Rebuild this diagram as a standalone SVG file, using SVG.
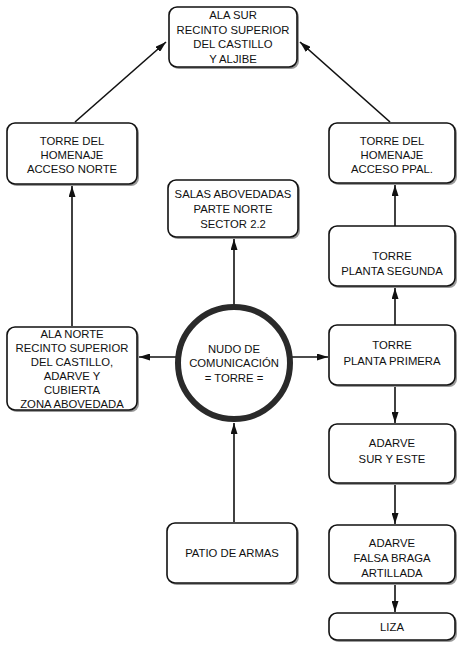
<svg xmlns="http://www.w3.org/2000/svg" width="459" height="652" viewBox="0 0 459 652">
<style>
.box{fill:#fff;stroke:#111;stroke-width:1.6}
.sh{fill:#9a9a9a}
text{font-family:"Liberation Sans",Arial,sans-serif;font-size:11.3px;fill:#111;text-anchor:middle}
.c{stroke:#111;stroke-width:1.6;fill:none;marker-end:url(#ah)}
</style>
<defs>
<marker id="ah" viewBox="0 0 11 7" refX="11" refY="3.5" markerWidth="11" markerHeight="7" markerUnits="userSpaceOnUse" orient="auto">
<path d="M0,0 L11,3.5 L0,7 Z" fill="#111"/>
</marker>
</defs>
<rect width="459" height="652" fill="#fff"/>
<g id="connectors">
<line class="c" x1="75" y1="122" x2="166" y2="42"/>
<line class="c" x1="390" y1="122" x2="300" y2="42"/>
<line class="c" x1="72" y1="326" x2="72" y2="186"/>
<line class="c" x1="234" y1="304" x2="234" y2="239"/>
<line class="c" x1="176" y1="357" x2="139" y2="357"/>
<line class="c" x1="292" y1="357" x2="328" y2="357"/>
<line class="c" x1="234" y1="522" x2="234" y2="423"/>
<line class="c" x1="395" y1="325" x2="395" y2="288"/>
<line class="c" x1="395" y1="226" x2="395" y2="185"/>
<line class="c" x1="395" y1="386" x2="395" y2="423"/>
<line class="c" x1="395" y1="484" x2="395" y2="524"/>
<line class="c" x1="395" y1="584" x2="395" y2="612"/>
</g>
<g id="ala-sur">
<rect class="sh" x="171" y="9" width="128" height="60" rx="8"/>
<rect class="box" x="169" y="7" width="128" height="60" rx="8"/>
<text x="233" y="19">ALA SUR</text>
<text x="233" y="33.5">RECINTO SUPERIOR</text>
<text x="233" y="48">DEL CASTILLO</text>
<text x="233" y="62.5">Y ALJIBE</text>
</g>
<g id="acceso-norte">
<rect class="sh" x="9" y="125" width="130" height="61" rx="8"/>
<rect class="box" x="7" y="123" width="130" height="61" rx="8"/>
<text x="72" y="145">TORRE DEL</text>
<text x="72" y="159">HOMENAJE</text>
<text x="72" y="173">ACCESO NORTE</text>
</g>
<g id="acceso-ppal">
<rect class="sh" x="331" y="125" width="126" height="60" rx="8"/>
<rect class="box" x="329" y="123" width="126" height="60" rx="8"/>
<text x="392" y="145">TORRE DEL</text>
<text x="392" y="159">HOMENAJE</text>
<text x="392" y="173">ACCESO PPAL.</text>
</g>
<g id="salas">
<rect class="sh" x="170" y="182" width="130" height="57" rx="8"/>
<rect class="box" x="168" y="180" width="130" height="57" rx="8"/>
<text x="233" y="198">SALAS ABOVEDADAS</text>
<text x="233" y="213">PARTE NORTE</text>
<text x="233" y="228">SECTOR 2.2</text>
</g>
<g id="ala-norte">
<rect class="sh" x="9" y="329" width="130" height="83" rx="8"/>
<rect class="box" x="7" y="327" width="130" height="83" rx="8"/>
<text x="72" y="338">ALA NORTE</text>
<text x="72" y="352">RECINTO SUPERIOR</text>
<text x="72" y="366">DEL CASTILLO,</text>
<text x="72" y="380">ADARVE Y</text>
<text x="72" y="394">CUBIERTA</text>
<text x="72" y="408">ZONA ABOVEDADA</text>
</g>
<g id="nudo">
<circle cx="234" cy="363" r="56" fill="#fff" stroke="#2a2a2a" stroke-width="6"/>
<text x="234" y="353">NUDO DE</text>
<text x="234" y="367">COMUNICACIÓN</text>
<text x="234" y="382">= TORRE =</text>
</g>
<g id="planta-segunda">
<rect class="sh" x="331" y="228" width="126" height="60" rx="8"/>
<rect class="box" x="329" y="226" width="126" height="60" rx="8"/>
<text x="392" y="260">TORRE</text>
<text x="392" y="275">PLANTA SEGUNDA</text>
</g>
<g id="planta-primera">
<rect class="sh" x="331" y="327" width="126" height="60" rx="8"/>
<rect class="box" x="329" y="325" width="126" height="60" rx="8"/>
<text x="392" y="349">TORRE</text>
<text x="392" y="365">PLANTA PRIMERA</text>
</g>
<g id="adarve-sur">
<rect class="sh" x="331" y="426" width="126" height="59" rx="8"/>
<rect class="box" x="329" y="424" width="126" height="59" rx="8"/>
<text x="392" y="447">ADARVE</text>
<text x="392" y="463">SUR Y ESTE</text>
</g>
<g id="falsa-braga">
<rect class="sh" x="331" y="527" width="126" height="58" rx="8"/>
<rect class="box" x="329" y="525" width="126" height="58" rx="8"/>
<text x="392" y="547">ADARVE</text>
<text x="392" y="562">FALSA BRAGA</text>
<text x="392" y="577">ARTILLADA</text>
</g>
<g id="liza">
<rect class="sh" x="331" y="615" width="126" height="27" rx="8"/>
<rect class="box" x="329" y="613" width="126" height="27" rx="8"/>
<text x="392" y="631">LIZA</text>
</g>
<g id="patio">
<rect class="sh" x="169" y="525" width="130" height="60" rx="8"/>
<rect class="box" x="167" y="523" width="130" height="60" rx="8"/>
<text x="232" y="557">PATIO DE ARMAS</text>
</g>
</svg>
